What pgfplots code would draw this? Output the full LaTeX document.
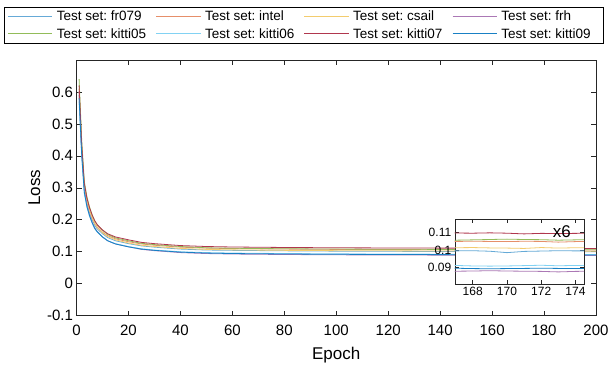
\documentclass[border=0pt]{standalone}
\usepackage{pgfplots}
\pgfplotsset{compat=1.18}
\usepackage{pgfplotstable}
\usepackage{fontspec}
\setmainfont{Liberation Sans}
\definecolor{mA}{rgb}{0,0.447,0.741}
\definecolor{mB}{rgb}{0.850,0.325,0.098}
\definecolor{mC}{rgb}{0.929,0.694,0.125}
\definecolor{mD}{rgb}{0.494,0.184,0.556}
\definecolor{mE}{rgb}{0.466,0.674,0.188}
\definecolor{mF}{rgb}{0.301,0.745,0.933}
\definecolor{mG}{rgb}{0.635,0.078,0.184}
\colorlet{cfr}{mA!60!white}
\colorlet{cin}{mB!65!white}
\colorlet{ccs}{mC!65!white}
\colorlet{cfh}{mD!65!white}
\colorlet{ck5}{mE!80!white}
\colorlet{ck6}{mF!70!white}
\colorlet{ck7}{mG!85!white}
\colorlet{ck9}{mA!90!white}
\colorlet{axc}{black!85}
\newcommand{\LE}[1]{\makebox[97pt][l]{#1}}

\pgfplotstableread{
e fr intel csail frh k5 k6 k7 k9
1 0.590 0.600 0.610 0.600 0.640 0.570 0.620 0.580
2 0.414 0.422 0.427 0.416 0.448 0.398 0.436 0.404
3 0.296 0.303 0.305 0.293 0.320 0.283 0.314 0.286
4 0.252 0.258 0.259 0.247 0.272 0.239 0.268 0.242
5 0.222 0.229 0.228 0.216 0.240 0.211 0.238 0.213
6 0.201 0.207 0.206 0.193 0.216 0.190 0.215 0.191
7 0.183 0.189 0.188 0.175 0.197 0.172 0.197 0.173
8 0.171 0.177 0.175 0.163 0.184 0.161 0.184 0.162
10 0.156 0.161 0.159 0.146 0.167 0.146 0.168 0.146
12 0.144 0.150 0.147 0.134 0.154 0.134 0.156 0.134
15 0.134 0.140 0.137 0.124 0.143 0.125 0.146 0.124
20 0.125 0.131 0.127 0.115 0.134 0.116 0.137 0.115
25 0.118 0.124 0.120 0.107 0.126 0.109 0.129 0.108
30 0.114 0.120 0.116 0.103 0.122 0.105 0.125 0.104
40 0.108 0.114 0.110 0.097 0.116 0.0996 0.119 0.0984
50 0.105 0.111 0.107 0.094 0.112 0.097 0.116 0.0955
60 0.104 0.1095 0.1055 0.0925 0.1105 0.0955 0.1145 0.094
80 0.1025 0.108 0.104 0.091 0.109 0.094 0.113 0.0926
100 0.1015 0.107 0.103 0.090 0.108 0.093 0.112 0.0916
120 0.101 0.1065 0.1025 0.0895 0.1075 0.0925 0.1115 0.0911
140 0.1005 0.106 0.102 0.089 0.107 0.092 0.111 0.0906
160 0.100 0.1056 0.1016 0.0886 0.1066 0.0916 0.1106 0.0902
166 0.0997 0.1049 0.1013 0.0882 0.1056 0.0912 0.1097 0.0898
167 0.0996 0.1050 0.1014 0.0880 0.1057 0.0913 0.1098 0.0897
168 0.0997 0.1051 0.1015 0.0881 0.1059 0.0910 0.1097 0.0895
169 0.0994 0.1050 0.1013 0.0883 0.1061 0.0909 0.1099 0.0894
170 0.0986 0.1049 0.1012 0.0881 0.1063 0.0910 0.1097 0.0895
171 0.0993 0.1051 0.1010 0.0880 0.1061 0.0912 0.1093 0.0896
172 0.0995 0.1050 0.1015 0.0879 0.1060 0.0914 0.1096 0.0897
173 0.0997 0.1046 0.1012 0.0876 0.1057 0.0911 0.1095 0.0896
174 0.0996 0.1049 0.1014 0.0879 0.1059 0.0913 0.1096 0.0895
175 0.0996 0.1050 0.1013 0.0880 0.1060 0.0912 0.1097 0.0896
180 0.0997 0.1051 0.1013 0.0880 0.1061 0.0912 0.1098 0.0897
190 0.0995 0.1050 0.1011 0.0879 0.1060 0.0911 0.1096 0.0896
200 0.0995 0.1050 0.1010 0.0880 0.1060 0.0910 0.1100 0.0896
}\maindata

\begin{document}
\frenchspacing
\begin{tikzpicture}
\path[use as bounding box] (0,0) rectangle (608pt,367pt);
\begin{axis}[
  at={(76.5pt,51.5pt)}, anchor=south west,
  scale only axis, width=519.5pt, height=255.5pt,
  xmin=0, xmax=200, ymin=-0.1, ymax=0.7,
  xtick={0,20,...,200},
  ytick={-0.1,0,0.1,0.2,0.3,0.4,0.5,0.6},
  yticklabels={-0.1,0,0.1,0.2,0.3,0.4,0.5,0.6},
  /pgf/number format/assume math mode=true,
  tick align=inside, major tick length=5pt,
  axis line style={axc}, tick style={axc, line width=0.5pt},
  ticklabel style={font=\fontsize{15}{17}\selectfont},
  xticklabel style={yshift=-6pt},
  xlabel={Epoch}, ylabel={Loss},
  xlabel style={yshift=-5pt},
  label style={font=\fontsize{17}{19}\selectfont},
  legend columns=4,
  legend cell align=left,
  legend image post style={xscale=2.6},
  legend style={at={(0.438,1.136)}, anchor=center,
    font=\fontsize{13.5}{15}\selectfont,
    inner xsep=3pt, inner ysep=1.5pt, row sep=2pt,
    /tikz/every odd column/.append style={column sep=2pt},
    /tikz/every even column/.append style={column sep=0pt}},
]
\addplot[cfr, line width=0.8pt] table[x=e,y=fr] {\maindata};
\addlegendentry{\LE{Test set: fr079}}
\addplot[cin, line width=0.8pt] table[x=e,y=intel] {\maindata};
\addlegendentry{\LE{Test set: intel}}
\addplot[ccs, line width=0.8pt] table[x=e,y=csail] {\maindata};
\addlegendentry{\LE{Test set: csail}}
\addplot[cfh, line width=0.8pt] table[x=e,y=frh] {\maindata};
\addlegendentry{\LE{Test set: frh}}
\addplot[ck5, line width=0.8pt] table[x=e,y=k5] {\maindata};
\addlegendentry{\LE{Test set: kitti05}}
\addplot[ck6, line width=0.8pt] table[x=e,y=k6] {\maindata};
\addlegendentry{\LE{Test set: kitti06}}
\addplot[ck7, line width=0.8pt] table[x=e,y=k7] {\maindata};
\addlegendentry{\LE{Test set: kitti07}}
\addplot[ck9, line width=0.8pt] table[x=e,y=k9] {\maindata};
\addlegendentry{\LE{Test set: kitti09}}
\end{axis}
\begin{axis}[
  at={(454.7pt,83pt)}, anchor=south west,
  scale only axis, width=129.3pt, height=65pt,
  xmin=166.95, xmax=174.5, ymin=0.0807, ymax=0.1178,
  xtick={168,170,172,174},
  ytick={0.09,0.1,0.11},
  yticklabels={0.09,0.1,0.11},
  /pgf/number format/assume math mode=true,
  tick align=inside, major tick length=4pt,
  axis line style={axc}, tick style={axc, line width=0.5pt},
  ticklabel style={font=\fontsize{12}{14}\selectfont},
  axis background/.style={fill=white},
  clip=true,
]
\addplot[cfr, line width=0.8pt] table[x=e,y=fr] {\maindata};
\addplot[cin, line width=0.8pt] table[x=e,y=intel] {\maindata};
\addplot[ccs, line width=0.8pt] table[x=e,y=csail] {\maindata};
\addplot[cfh, line width=0.8pt] table[x=e,y=frh] {\maindata};
\addplot[ck5, line width=0.8pt] table[x=e,y=k5] {\maindata};
\addplot[ck6, line width=0.8pt] table[x=e,y=k6] {\maindata};
\addplot[ck7, line width=0.8pt] table[x=e,y=k7] {\maindata};
\addplot[ck9, line width=0.8pt] table[x=e,y=k9] {\maindata};
\node[font=\fontsize{17}{19}\selectfont] at (axis cs:173.2,0.1104) {x6};
\end{axis}
\end{tikzpicture}
\end{document}
